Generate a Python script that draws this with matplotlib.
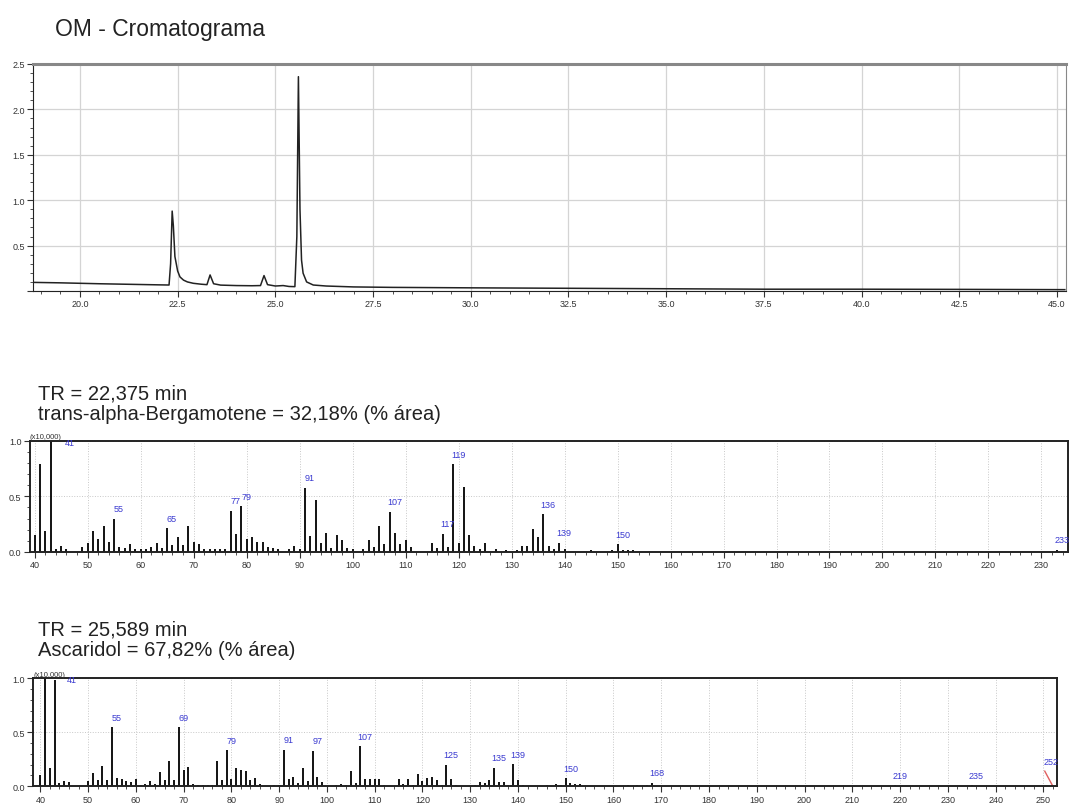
import numpy as np
import matplotlib
matplotlib.use("Agg")
import matplotlib.pyplot as plt
from matplotlib.ticker import MultipleLocator, FormatStrFormatter

plt.rcParams['font.family'] = ['Liberation Sans', 'DejaVu Sans']

# --- cromatograma (tiempo en min, intensidad x10^7 aprox.) ---
rt = [18.8, 19.5, 20.0, 20.5, 21.0, 21.5, 22.0, 22.28, 22.32, 22.36, 22.39, 22.43,
      22.5, 22.56, 22.65, 22.75, 22.9, 23.1, 23.25, 23.33, 23.42, 23.6, 24.0, 24.4,
      24.62, 24.71, 24.8, 25.0, 25.2, 25.35, 25.5, 25.55, 25.59, 25.63, 25.67, 25.71,
      25.8, 25.97, 26.3, 27.0, 28.0, 30.0, 32.5, 35.0, 37.5, 40.0, 42.5, 45.2]
signal = [0.095, 0.09, 0.085, 0.08, 0.076, 0.072, 0.068, 0.066, 0.3, 0.88, 0.72, 0.38,
          0.22, 0.155, 0.12, 0.10, 0.085, 0.075, 0.07, 0.177, 0.08, 0.065, 0.06, 0.058,
          0.06, 0.17, 0.07, 0.055, 0.06, 0.05, 0.048, 0.6, 2.36, 0.9, 0.34, 0.196,
          0.10, 0.066, 0.055, 0.045, 0.04, 0.035, 0.03, 0.025, 0.02, 0.02, 0.018, 0.015]

# --- espectro 1: trans-alpha-Bergamoteno ---
mz_1 = [40, 41, 42, 43, 44, 45, 46, 49, 50, 51, 52, 53, 54, 55, 56, 57, 58, 59, 60,
        61, 62, 63, 64, 65, 66, 67, 68, 69, 70, 71, 72, 73, 74, 75, 76, 77, 78, 79,
        80, 81, 82, 83, 84, 85, 86, 88, 89, 90, 91, 92, 93, 94, 95, 96, 97, 98, 99,
        100, 102, 103, 104, 105, 106, 107, 108, 109, 110, 111, 115, 116, 117, 118,
        119, 120, 121, 122, 123, 124, 125, 127, 129, 131, 132, 133, 134, 135, 136,
        137, 138, 139, 140, 145, 149, 150, 151, 152, 153, 233]
int_1 = [0.155, 0.79, 0.19, 1.0, 0.03, 0.05, 0.03, 0.045, 0.08, 0.19, 0.12, 0.23,
         0.09, 0.30, 0.045, 0.04, 0.075, 0.025, 0.025, 0.025, 0.045, 0.08, 0.035,
         0.215, 0.065, 0.135, 0.06, 0.23, 0.09, 0.075, 0.025, 0.025, 0.025, 0.025,
         0.025, 0.37, 0.16, 0.41, 0.115, 0.135, 0.09, 0.09, 0.045, 0.035, 0.025,
         0.025, 0.055, 0.025, 0.575, 0.145, 0.465, 0.085, 0.175, 0.04, 0.155, 0.105,
         0.04, 0.025, 0.025, 0.105, 0.045, 0.23, 0.075, 0.36, 0.175, 0.075, 0.105,
         0.045, 0.085, 0.035, 0.165, 0.045, 0.79, 0.085, 0.58, 0.15, 0.055, 0.025,
         0.085, 0.025, 0.02, 0.02, 0.055, 0.055, 0.205, 0.135, 0.34, 0.055, 0.025,
         0.085, 0.025, 0.02, 0.02, 0.07, 0.02, 0.02, 0.02, 0.02]
labels_1 = [55, 65, 77, 79, 91, 107, 117, 119, 136, 139, 150, 233]

# --- espectro 2: Ascaridol ---
mz_2 = [40, 41, 42, 43, 44, 45, 46, 50, 51, 52, 53, 54, 55, 56, 57, 58, 59, 60, 61,
        62, 63, 64, 65, 66, 67, 68, 69, 70, 71, 72, 73, 74, 75, 76, 77, 78, 79, 80,
        81, 82, 83, 84, 85, 86, 89, 90, 91, 92, 93, 94, 95, 96, 97, 98, 99, 102,
        103, 104, 105, 106, 107, 108, 109, 110, 111, 112, 115, 116, 117, 118, 119,
        120, 121, 122, 123, 124, 125, 126, 127, 131, 132, 133, 134, 135, 136, 137,
        138, 139, 140, 141, 146, 148, 149, 150, 151, 152, 153, 163, 165, 167, 168,
        219, 235]
int_2 = [0.105, 1.0, 0.165, 0.98, 0.03, 0.05, 0.035, 0.05, 0.125, 0.06, 0.185,
         0.06, 0.545, 0.075, 0.07, 0.045, 0.035, 0.07, 0.01, 0.02, 0.05, 0.02,
         0.135, 0.06, 0.235, 0.06, 0.545, 0.155, 0.175, 0.02, 0.01, 0.01, 0.01,
         0.01, 0.23, 0.06, 0.335, 0.07, 0.165, 0.155, 0.145, 0.06, 0.075, 0.02,
         0.01, 0.01, 0.34, 0.07, 0.085, 0.03, 0.165, 0.05, 0.33, 0.085, 0.035,
         0.01, 0.02, 0.01, 0.145, 0.03, 0.37, 0.07, 0.07, 0.07, 0.07, 0.01, 0.07,
         0.02, 0.07, 0.01, 0.115, 0.045, 0.075, 0.09, 0.06, 0.01, 0.2, 0.07, 0.01,
         0.01, 0.035, 0.03, 0.06, 0.17, 0.035, 0.035, 0.01, 0.205, 0.06, 0.01,
         0.01, 0.02, 0.01, 0.075, 0.03, 0.02, 0.02, 0.01, 0.01, 0.01, 0.03,
         0.01, 0.01]
labels_2 = [55, 69, 79, 91, 97, 107, 125, 135, 139, 150, 168, 219, 235]
cursor_mz = [250.3, 252.0]
cursor_int = [0.14, 0.0]

TICK_C = '#333333'
LABEL_C = '#3a3ad0'


def style_ticks(ax):
    ax.tick_params(axis='both', which='major', labelsize=6.5, colors=TICK_C,
                   length=4, width=0.8, pad=2)
    ax.tick_params(axis='both', which='minor', length=2, width=0.6, colors=TICK_C)


def draw_spectrum(ax, mz, inten, labels, xlim, xmin_lab):
    ax.vlines(mz, 0, inten, color='black', lw=1.3)
    ax.set_xlim(*xlim)
    ax.set_ylim(0, 1.0)
    ax.xaxis.set_major_locator(MultipleLocator(10))
    ax.xaxis.set_minor_locator(MultipleLocator(2))
    ax.yaxis.set_major_locator(MultipleLocator(0.5))
    ax.yaxis.set_minor_locator(MultipleLocator(0.1))
    ax.yaxis.set_major_formatter(FormatStrFormatter('%.1f'))
    ax.grid(True, which='major', color='#c8c8c8', lw=0.7, ls=':')
    ax.set_axisbelow(True)
    for s in ax.spines.values():
        s.set_linewidth(1.4)
        s.set_color('#222222')
    style_ticks(ax)
    lookup = dict(zip(mz, inten))
    for m in labels:
        ax.annotate(str(m), (m, lookup.get(m, 0.01)), xytext=(3.5, 4),
                    textcoords='offset points', ha='center', va='bottom',
                    fontsize=6.5, color=LABEL_C, annotation_clip=False)
    # pico base (41) y factor de escala
    ax.text(xmin_lab, 0.985, '41', fontsize=6.5, color=LABEL_C, ha='left',
            va='center')
    ax.text(0.0, 1.005, '(x10,000)', transform=ax.transAxes, fontsize=5.5,
            color=TICK_C, ha='left', va='bottom')


fig = plt.figure(figsize=(10.69, 8.04), dpi=100)

# cromatograma
ax0 = fig.add_axes([0.0309, 0.6368, 0.9663, 0.2824])
ax0.plot(rt, signal, color='#222222', lw=1.1)
ax0.set_xlim(18.8, 45.23)
ax0.set_ylim(0, 2.5)
ax0.xaxis.set_major_locator(MultipleLocator(2.5))
ax0.xaxis.set_minor_locator(MultipleLocator(0.5))
ax0.yaxis.set_major_locator(MultipleLocator(0.5))
ax0.yaxis.set_minor_locator(MultipleLocator(0.1))
ax0.xaxis.set_major_formatter(FormatStrFormatter('%.1f'))
ax0.yaxis.set_major_formatter(
    plt.FuncFormatter(lambda v, p: '' if abs(v) < 1e-9 else f'{v:.1f}'))
ax0.grid(True, which='major', color='#d4d4d4', lw=0.9)
ax0.set_axisbelow(True)
ax0.spines['top'].set_linewidth(2.2)
ax0.spines['top'].set_color('#888888')
ax0.spines['right'].set_color('#888888')
ax0.spines['left'].set_color('#222222')
ax0.spines['bottom'].set_color('#222222')
style_ticks(ax0)
fig.text(0.0515, 0.963, 'OM - Cromatograma', fontsize=16.5, color='#222222',
         ha='left', va='center')

# espectro 1
fig.text(0.0355, 0.510, 'TR = 22,375 min', fontsize=14.5, color='#222222',
         ha='left', va='center')
fig.text(0.0355, 0.485, 'trans-alpha-Bergamotene = 32,18% (% área)', fontsize=14.5,
         color='#222222', ha='left', va='center')
ax1 = fig.add_axes([0.028, 0.3122, 0.971, 0.1384])
draw_spectrum(ax1, mz_1, int_1, labels_1, (39.1, 235.0), 45.6)

# espectro 2
fig.text(0.0355, 0.216, 'TR = 25,589 min', fontsize=14.5, color='#222222',
         ha='left', va='center')
fig.text(0.0355, 0.191, 'Ascaridol = 67,82% (% área)', fontsize=14.5,
         color='#222222', ha='left', va='center')
ax2 = fig.add_axes([0.0309, 0.0208, 0.9576, 0.1343])
draw_spectrum(ax2, mz_2, int_2, labels_2, (38.47, 252.8), 45.6)
ax2.plot(cursor_mz, cursor_int, color='#e06060', lw=1.0)
ax2.annotate('252', (cursor_mz[1], cursor_int[0]), xytext=(-1, 4),
             textcoords='offset points', ha='center', va='bottom',
             fontsize=6.5, color=LABEL_C, annotation_clip=False)

fig.savefig('out.png', dpi=100)
